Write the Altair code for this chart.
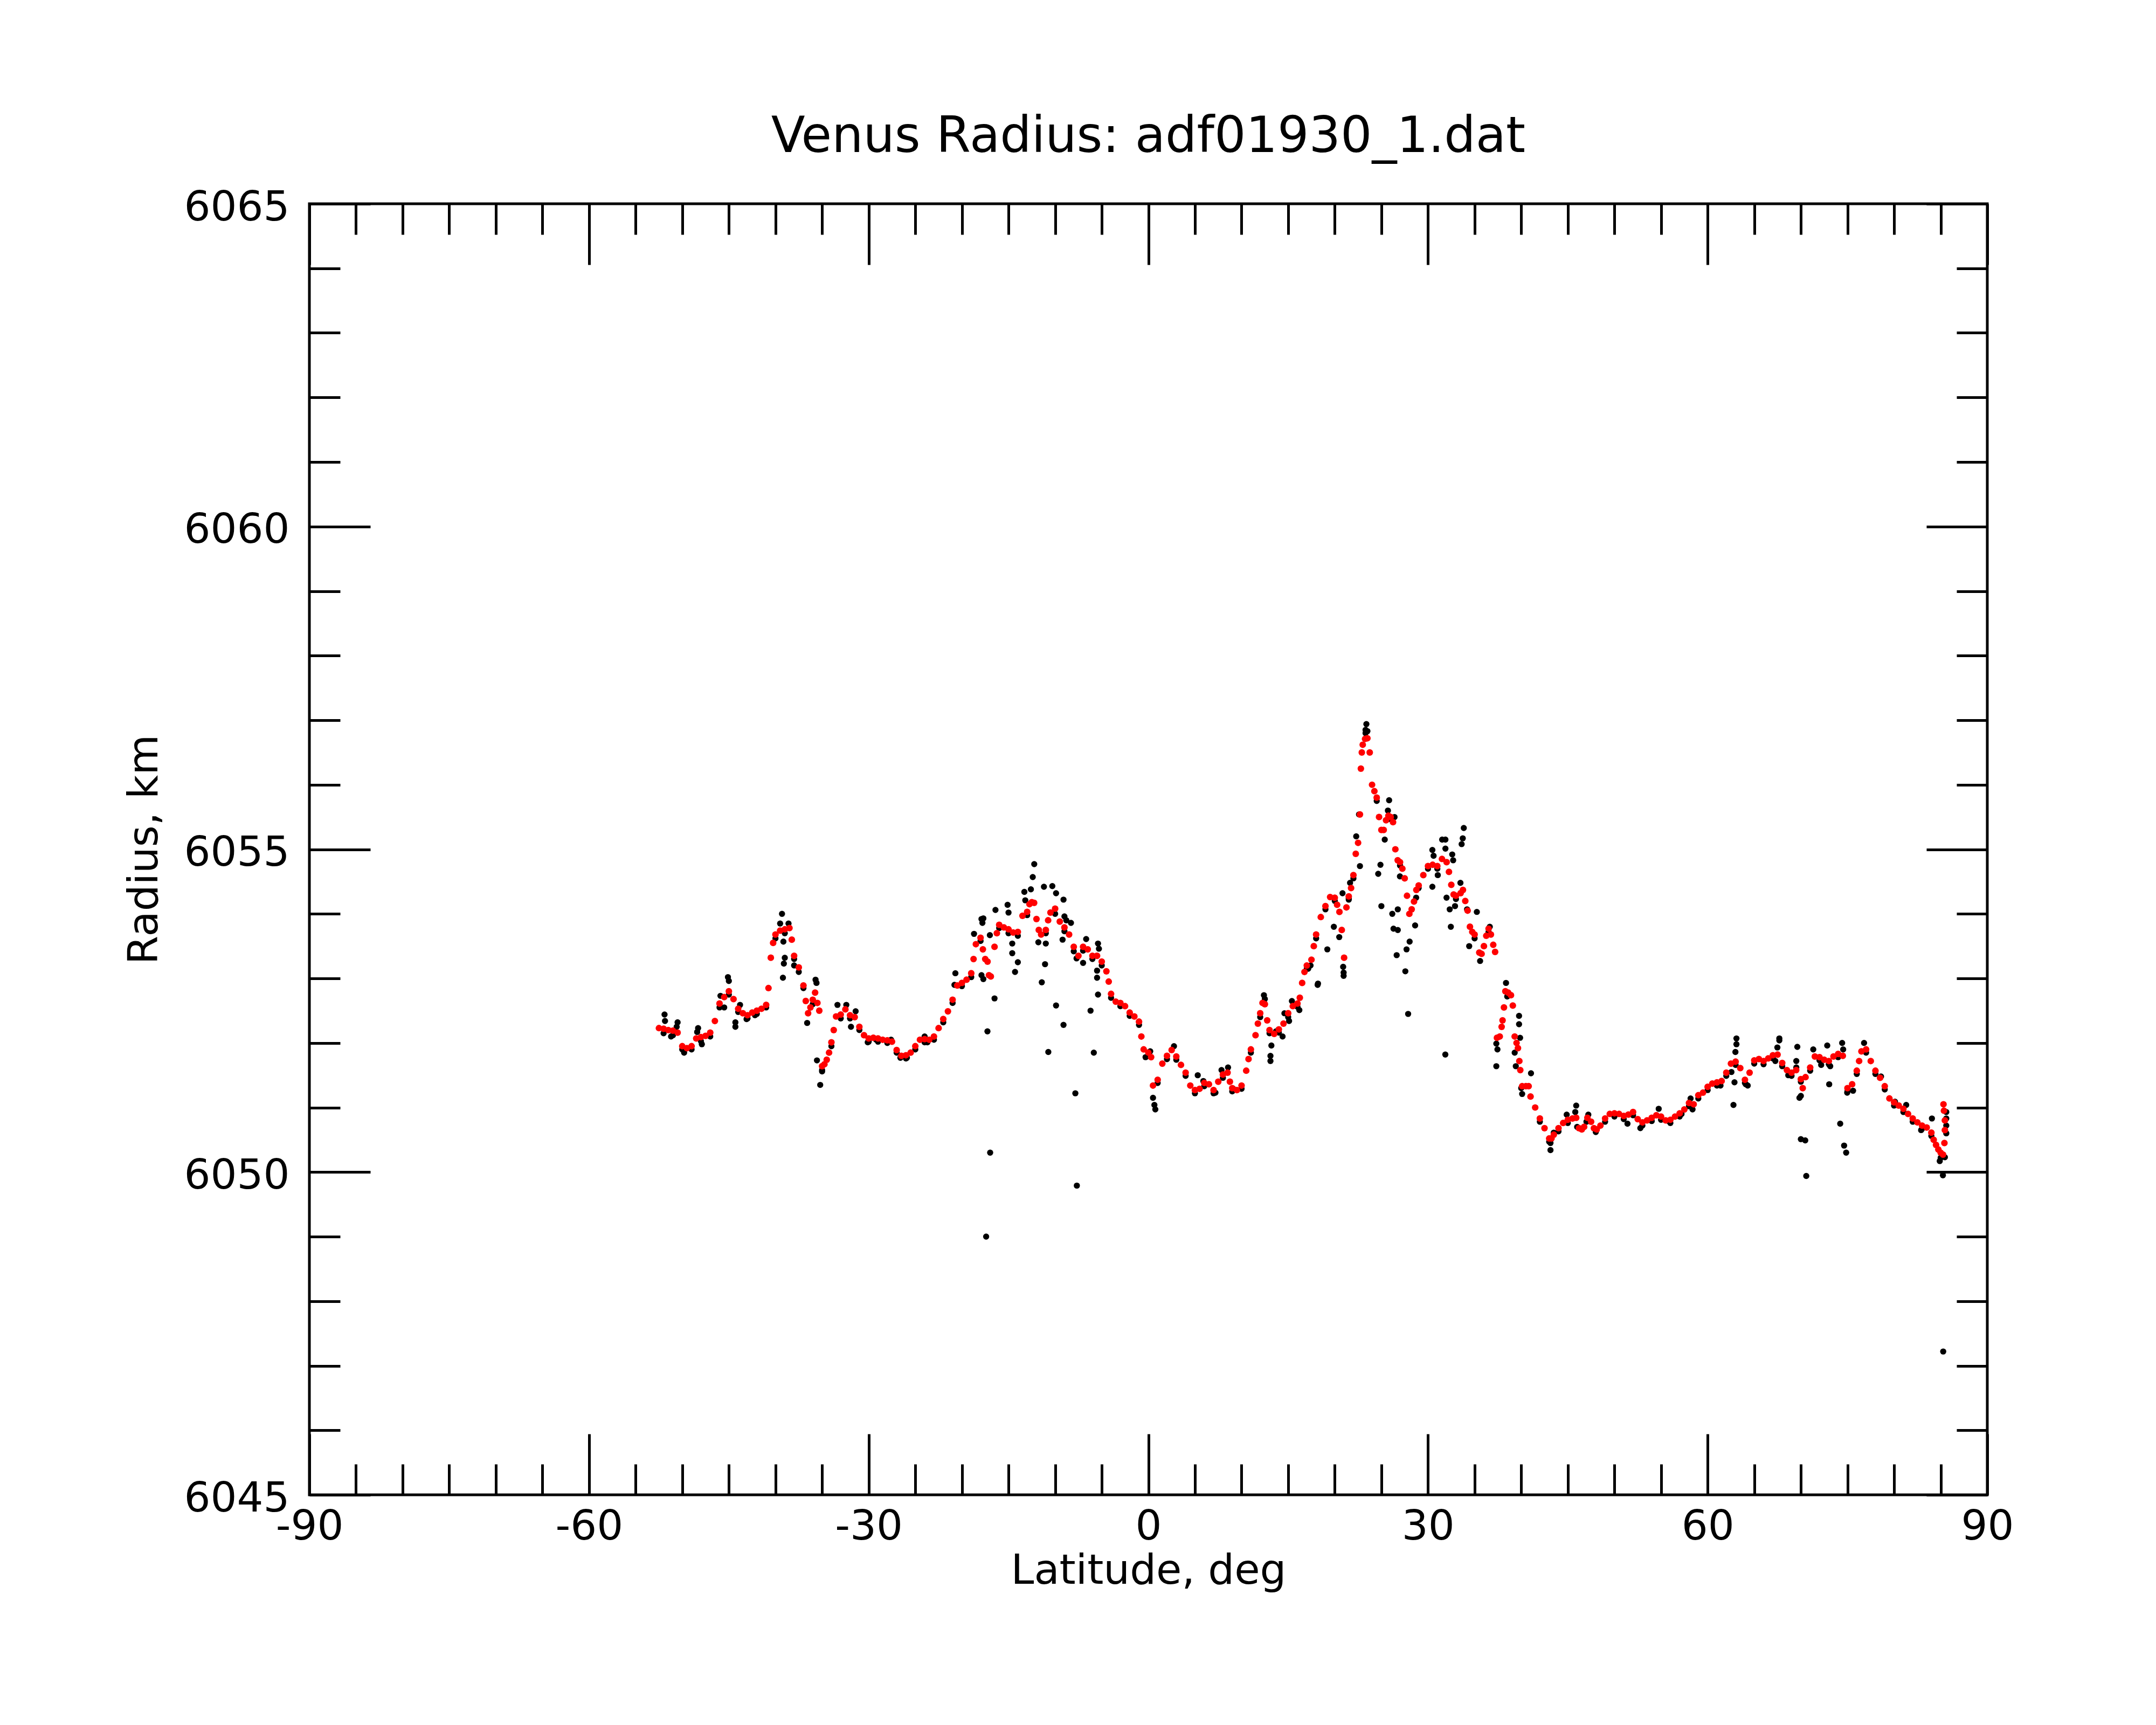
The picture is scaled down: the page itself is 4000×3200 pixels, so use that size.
import altair as alt
import pandas as pd

# ---- red (smoothed) series: latitude (deg), radius (km) ----
red_lat = [-52.5, -52.0, -51.5, -51.0, -50.5, -50.0, -49.5, -49.0, -48.5, -48.0, -47.5, -47.0, -46.5, -46.0,
           -45.5, -45.0, -44.5, -44.0, -43.5, -43.0, -42.5, -42.0, -41.5, -41.0, -40.75, -40.5, -40.25, -40.0,
           -39.5, -39.0, -38.5, -38.25, -38.0, -37.5, -37.0, -36.75, -36.5, -36.25, -36.0, -35.75, -35.5, -35.3,
           -35.0, -34.75, -34.5, -34.25, -34.0, -33.75, -33.5, -33.0, -32.5, -32.0, -31.5, -31.0, -30.5, -30.0,
           -29.5, -29.0, -28.5, -28.0, -27.5, -27.0, -26.5, -26.0, -25.5, -25.0, -24.5, -24.0, -23.5, -23.0,
           -22.5, -22.0, -21.5, -21.0, -20.5, -20.0, -19.5, -19.0, -18.75, -18.5, -18.0, -17.75, -17.5, -17.25,
           -17.1, -16.9, -16.5, -16.25, -16.0, -15.5, -15.0, -14.5, -14.0, -13.5, -13.0, -12.75, -12.5, -12.25,
           -12.0, -11.75, -11.5, -11.0, -10.75, -10.5, -10.0, -9.5, -9.0, -8.5, -8.0, -7.5, -7.0, -6.5, -6.0,
           -5.5, -5.0, -4.5, -4.25, -4.0, -3.5, -3.0, -2.5, -2.0, -1.5, -1.0, -0.75, -0.5, 0.0, 0.3, 0.5, 1.0,
           1.5, 2.0, 2.5, 3.0, 3.5, 4.0, 4.5, 5.0, 5.5, 6.0, 6.5, 7.0, 7.5, 8.0, 8.5, 8.75, 9.0, 9.5, 10.0,
           10.5, 10.75, 11.0, 11.5, 11.75, 12.0, 12.25, 12.5, 12.75, 13.0, 13.5, 14.0, 14.5, 15.0, 15.5, 16.0,
           16.25, 16.5, 16.75, 17.0, 17.5, 17.75, 18.0, 18.5, 19.0, 19.5, 20.0, 20.25, 20.5, 20.75, 21.0, 21.25,
           21.5, 21.75, 22.0, 22.25, 22.5, 22.7, 22.8, 22.9, 23.0, 23.25, 23.5, 23.75, 24.0, 24.25, 24.5, 24.75,
           25.0, 25.25, 25.5, 25.75, 26.0, 26.25, 26.5, 26.75, 27.0, 27.25, 27.5, 27.75, 28.0, 28.25, 28.5,
           28.75, 29.0, 29.5, 30.0, 30.5, 31.0, 31.5, 32.0, 32.25, 32.5, 32.75, 33.0, 33.5, 33.75, 34.0, 34.25,
           34.5, 34.75, 35.0, 35.5, 35.75, 36.0, 36.25, 36.5, 36.75, 37.0, 37.2, 37.4, 37.7, 37.9, 38.0, 38.15,
           38.3, 38.6, 38.9, 39.1, 39.3, 39.5, 39.65, 39.8, 39.9, 40.1, 40.5, 40.8, 41.0, 41.5, 42.0, 42.5,
           43.0, 43.25, 43.5, 44.0, 44.5, 45.0, 45.5, 45.9, 46.2, 46.5, 46.75, 47.1, 47.5, 47.8, 48.1, 48.5,
           49.0, 49.5, 50.0, 50.5, 51.0, 51.5, 52.0, 52.5, 53.0, 53.5, 54.0, 54.5, 55.0, 55.5, 56.0, 56.5,
           57.0, 57.5, 58.0, 58.5, 59.0, 59.5, 60.0, 60.5, 61.0, 61.5, 62.0, 62.5, 63.0, 63.5, 64.0, 64.5,
           65.0, 65.5, 66.0, 66.5, 67.0, 67.5, 68.0, 68.5, 69.0, 69.5, 70.0, 70.2, 70.5, 71.0, 71.5, 72.0,
           72.5, 73.0, 73.5, 74.0, 74.5, 75.0, 75.5, 76.0, 76.25, 76.5, 77.0, 77.5, 78.0, 78.5, 79.0, 79.5,
           80.0, 80.5, 81.0, 81.5, 82.0, 82.5, 83.0, 83.5, 84.0, 84.25, 84.5, 84.75, 85.0, 85.25, 85.4, 85.45,
           85.45, 85.35, 85.3]
red_r = [6052.23, 6052.22, 6052.20, 6052.19, 6052.16, 6051.95, 6051.92, 6051.95, 6052.07, 6052.09, 6052.11,
         6052.16, 6052.34, 6052.61, 6052.71, 6052.80, 6052.68, 6052.53, 6052.46, 6052.43, 6052.47, 6052.50,
         6052.53, 6052.59, 6052.85, 6053.32, 6053.55, 6053.68, 6053.74, 6053.76, 6053.78, 6053.60, 6053.35,
         6053.17, 6052.89, 6052.65, 6052.46, 6052.55, 6052.67, 6052.78, 6052.62, 6052.50, 6051.64, 6051.67,
         6051.74, 6051.85, 6052.01, 6052.20, 6052.41, 6052.44, 6052.52, 6052.43, 6052.40, 6052.25, 6052.12,
         6052.07, 6052.08, 6052.07, 6052.05, 6052.04, 6052.02, 6051.89, 6051.80, 6051.81, 6051.85, 6051.95,
         6052.05, 6052.06, 6052.05, 6052.10, 6052.23, 6052.37, 6052.49, 6052.67, 6052.89, 6052.93, 6052.98,
         6053.08, 6053.30, 6053.53, 6053.63, 6053.45, 6053.30, 6053.26, 6053.05, 6053.03, 6053.49, 6053.70,
         6053.83, 6053.79, 6053.76, 6053.71, 6053.72, 6053.97, 6054.03, 6054.15, 6054.18, 6054.17, 6053.92,
         6053.75, 6053.68, 6053.75, 6053.90, 6054.02, 6054.08, 6053.88, 6053.79, 6053.68, 6053.49, 6053.35,
         6053.49, 6053.45, 6053.35, 6053.35, 6053.26, 6053.11, 6052.95, 6052.76, 6052.64, 6052.62, 6052.57,
         6052.47, 6052.41, 6052.33, 6052.10, 6051.90, 6051.85, 6051.78, 6051.34, 6051.43, 6051.68, 6051.80,
         6051.89, 6051.79, 6051.66, 6051.54, 6051.34, 6051.27, 6051.29, 6051.38, 6051.36, 6051.27, 6051.40,
         6051.51, 6051.54, 6051.40, 6051.30, 6051.27, 6051.34, 6051.57, 6051.75, 6051.90, 6052.12, 6052.30,
         6052.46, 6052.62, 6052.60, 6052.35, 6052.20, 6052.14, 6052.21, 6052.30, 6052.46, 6052.57, 6052.61,
         6052.70, 6052.93, 6053.10, 6053.20, 6053.29, 6053.50, 6053.68, 6053.95, 6054.12, 6054.26, 6054.25,
         6054.14, 6054.03, 6053.75, 6053.32, 6054.10, 6054.27, 6054.40, 6054.60, 6054.93, 6055.10, 6055.54,
         6056.25, 6056.50, 6056.62, 6056.71, 6056.72, 6056.50, 6056.00, 6055.90, 6055.80, 6055.50, 6055.30,
         6055.30, 6055.45, 6055.52, 6055.50, 6055.42, 6055.00, 6054.83, 6054.80, 6054.70, 6054.55, 6054.28,
         6054.00, 6054.07, 6054.19, 6054.37, 6054.44, 6054.60, 6054.74, 6054.76, 6054.74, 6054.85, 6054.80,
         6054.65, 6054.45, 6054.30, 6054.28, 6054.32, 6054.37, 6054.20, 6054.05, 6053.80, 6053.72, 6053.68,
         6053.40, 6053.38, 6053.50, 6053.66, 6053.77, 6053.68, 6053.52, 6053.41, 6052.08, 6052.10, 6052.25,
         6052.35, 6052.55, 6052.80, 6052.78, 6052.74, 6052.58, 6052.10, 6052.00, 6051.92, 6051.72, 6051.58,
         6051.33, 6051.33, 6051.33, 6051.17, 6051.00, 6050.83, 6050.68, 6050.52, 6050.52, 6050.58, 6050.68,
         6050.76, 6050.81, 6050.83, 6050.84, 6050.68, 6050.66, 6050.70, 6050.84, 6050.78, 6050.68, 6050.66,
         6050.72, 6050.83, 6050.90, 6050.91, 6050.90, 6050.87, 6050.89, 6050.93, 6050.82, 6050.77, 6050.80,
         6050.84, 6050.88, 6050.86, 6050.80, 6050.81, 6050.86, 6050.91, 6050.97, 6051.07, 6051.05, 6051.19,
         6051.23, 6051.32, 6051.37, 6051.39, 6051.41, 6051.54, 6051.68, 6051.71, 6051.61, 6051.43, 6051.54,
         6051.73, 6051.75, 6051.72, 6051.76, 6051.81, 6051.82, 6051.69, 6051.58, 6051.54, 6051.58, 6051.44,
         6051.30, 6051.47, 6051.62, 6051.79, 6051.78, 6051.74, 6051.72, 6051.79, 6051.83, 6051.80, 6051.30,
         6051.36, 6051.57, 6051.72, 6051.87, 6051.90, 6051.72, 6051.57, 6051.46, 6051.33, 6051.14, 6051.08,
         6051.03, 6050.98, 6050.90, 6050.83, 6050.77, 6050.72, 6050.69, 6050.61, 6050.50, 6050.42, 6050.35,
         6050.30, 6050.27, 6050.45, 6050.65, 6050.80, 6050.95, 6051.05]

# ---- black (raw) series: latitude (deg), radius (km) ----
blk_lat = [-52.0, -51.0, -50.0, -49.0, -48.0, -47.0, -46.0, -45.0, -44.0, -43.0, -42.0, -41.0, -40.0, -39.0,
           -38.0, -37.0, -36.0, -35.0, -34.0, -33.0, -32.0, -31.0, -30.0, -29.0, -28.0, -27.0, -26.0, -25.0,
           -24.0, -23.0, -22.0, -21.0, -20.0, -19.0, -18.0, -16.0, -15.0, -14.0, -13.0, -11.0, -10.0, -9.0,
           -8.0, -7.0, -6.0, -5.0, -4.0, -3.0, -2.0, -1.0, 0.0, 1.0, 2.0, 3.0, 4.0, 5.0, 6.0, 7.0, 8.0, 9.0,
           10.0, 11.0, 12.0, 13.0, 14.0, 15.0, 16.0, 17.0, 18.0, 19.0, 20.0, 21.5, 22.0, 23.3, 24.5, 25.8,
           27.0, 29.0, 30.0, 31.0, 33.0, 35.0, 36.5, 38.5, 40.0, 42.0, 43.0, 44.0, 45.0, 46.0, 47.0, 48.0,
           49.0, 50.0, 51.0, 52.0, 53.0, 54.0, 55.0, 56.0, 57.0, 58.0, 59.0, 60.0, 61.0, 62.0, 63.0, 64.0,
           65.0, 66.0, 67.0, 68.0, 69.0, 70.0, 71.0, 72.0, 73.0, 74.0, 75.0, 76.0, 77.0, 78.0, 79.0, 80.0,
           81.0, 82.0, 83.0, 84.0, 85.0,
           -51.9, -51.85, -51.2, -50.5, -50.6, -49.8, -48.3, -48.4, -47.9, -45.9, -45.1, -45.0, -45.5, -44.3,
           -44.3, -43.8, -43.1, -42.2, -39.3, -39.5, -38.6, -39.15, -39.0, -39.1, -39.2, -38.0, -37.5, -36.6,
           -35.7, -35.6, -35.55, -35.2, -35.0, -33.35, -32.4, -31.9, -31.4, -30.1, -29.2, -27.6, -26.6, -25.9,
           -24.0, -23.7, -20.7, -20.8, -18.7, -17.9, -17.8, -17.9, -17.7, -17.26, -16.97, -17.4,
           -12.24, -12.4, -12.6, -13.3, -11.2, -10.3, -9.9, -9.1, -13.2, -15.1, -15.0, -16.4, -17.7, -17.0,
           -14.6, -14.6, -14.0, -14.3, -16.5, -11.08, -11.43, -11.8, -11.0, -9.9, -9.1, -10.73, -7.83, -7.67,
           -5.85, -6.2, -5.5, -5.5, -5.4, -5.4, -5.3, -6.67, -7.0, -7.7, -9.0, -8.8, -9.2, -8.3, -0.3, 0.2,
           0.5, 0.65, 0.75, 2.75, 5.3, 5.9, 7.2, 8.55, 7.85, 9.1, 12.4, 12.5, 13.2, 13.1, 13.1, 13.7, 14.4,
           14.6, 15.4, 15.1, 16.2, 17.15, 17.4, 18.2,
           23.39, 23.3, 23.5, 18.16, 19.2, 19.9, 20.48, 20.83, 20.95, 20.95, 20.9, 21.5, 21.64, 22.3, 22.7,
           22.6, 24.9, 24.66, 25.0, 25.36, 25.83, 25.7, 26.41, 26.17, 26.76, 26.3, 26.76, 26.64, 26.99, 27.57,
           27.7, 28.03, 27.87, 28.62, 28.73, 30.47, 30.6, 30.47, 31.05, 31.52, 31.87, 31.87, 32.6, 32.7, 31.86,
           31.99, 32.33, 32.45, 32.9, 33.48, 33.61, 33.73, 33.84, 34.42, 34.19, 35.24, 35.59, 36.63, 38.37,
           37.33, 37.45, 37.33, 39.77, 39.77, 39.88, 39.3, 39.42, 41.05, 40.1, 43.14, 43.14, 43.49, 44.88,
           45.9, 45.8, 47.2, 51.4, 52.78,
           63.09, 63.09, 62.98, 62.88, 62.77, 62.55, 64.1, 64.3, 58.17, 58.38, 54.75, 55.8, 57.2, 61.38, 67.69,
           67.69, 67.48, 67.26, 68.65, 69.62, 69.51, 69.51, 70.0, 69.85, 70.0, 70.47, 70.58, 71.33, 72.18,
           72.83, 73.15, 73.04, 74.43, 74.54, 74.22, 74.64, 74.86, 74.97, 75.6, 76.78, 78.6, 80.1, 81.3, 82.9,
           84.06, 84.9, 85.24, 85.6, 85.6, 85.6, 85.6, 85.45, 85.27]
blk_r = [6052.15, 6052.12, 6051.90, 6051.90, 6052.03, 6052.10, 6052.55, 6052.75, 6052.48, 6052.38, 6052.45,
         6052.55, 6053.62, 6053.70, 6053.30, 6052.85, 6052.60, 6051.58, 6051.95, 6052.38, 6052.38, 6052.20,
         6052.02, 6052.02, 6052.00, 6051.85, 6051.76, 6051.90, 6052.01, 6052.05, 6052.32, 6052.62, 6052.88,
         6053.02, 6053.58, 6053.78, 6053.70, 6053.66, 6053.98, 6053.70, 6054.00, 6053.73, 6053.42, 6053.43,
         6053.30, 6053.20, 6052.70, 6052.57, 6052.42, 6052.28, 6051.80, 6051.38, 6051.75, 6051.74, 6051.49,
         6051.22, 6051.33, 6051.22, 6051.46, 6051.25, 6051.29, 6051.85, 6052.40, 6052.15, 6052.16, 6052.40,
         6052.56, 6053.15, 6053.62, 6054.07, 6054.20, 6054.22, 6054.55, 6056.80, 6055.75, 6055.47, 6054.75,
         6054.40, 6054.70, 6054.70, 6054.23, 6053.62, 6053.72, 6052.72, 6051.30, 6050.78, 6050.47, 6050.63,
         6050.76, 6050.70, 6050.78, 6050.62, 6050.78, 6050.86, 6050.82, 6050.88, 6050.72, 6050.79, 6050.81,
         6050.76, 6050.86, 6051.02, 6051.14, 6051.27, 6051.34, 6051.49, 6051.66, 6051.38, 6051.68, 6051.67,
         6051.76, 6051.64, 6051.49, 6051.40, 6051.57, 6051.73, 6051.67, 6051.78, 6051.25, 6051.52, 6051.85,
         6051.52, 6051.28, 6051.03, 6050.93, 6050.78, 6050.67, 6050.56, 6050.22,
         6052.44, 6052.34, 6052.10, 6052.32, 6052.25, 6051.85, 6052.23, 6052.17, 6051.98, 6052.73, 6053.02,
         6052.96, 6052.55, 6052.32, 6052.25, 6052.59, 6052.37, 6052.43, 6054.00, 6053.85, 6053.85, 6053.57,
         6053.32, 6053.23, 6053.01, 6053.20, 6053.10, 6052.31, 6052.98, 6052.93, 6051.73, 6051.35, 6051.56,
         6052.59, 6052.59, 6052.25, 6052.49, 6052.01, 6052.05, 6052.05, 6051.77, 6051.77, 6052.10, 6052.01,
         6053.08, 6052.90, 6053.69, 6053.92, 6053.86, 6053.05, 6052.99, 6052.18, 6050.30, 6049.00,
         6054.77, 6054.57, 6054.38, 6054.34, 6054.42, 6054.43, 6054.32, 6054.22, 6054.21, 6054.14, 6054.02,
         6054.06, 6053.93, 6053.67, 6053.54, 6053.39, 6053.25, 6053.10, 6052.69, 6053.22, 6052.94, 6053.56,
         6053.54, 6052.58, 6052.28, 6051.86, 6051.22, 6049.79, 6051.85, 6052.50, 6053.01, 6053.12, 6052.75,
         6053.54, 6053.46, 6053.61, 6053.24, 6053.31, 6053.96, 6053.90, 6053.60, 6053.86, 6051.78, 6051.87,
         6051.15, 6051.04, 6050.97, 6051.95, 6051.50, 6051.41, 6051.23, 6051.62, 6051.58, 6051.29, 6052.74,
         6052.68, 6051.96, 6051.80, 6051.72, 6052.18, 6052.10, 6052.46, 6052.65, 6052.34, 6052.51, 6053.15,
         6053.20, 6052.92,
         6056.94, 6056.85, 6056.83, 6052.90, 6053.45, 6053.80, 6053.64, 6054.32, 6053.09, 6053.04, 6053.18,
         6054.24, 6054.48, 6055.20, 6054.74, 6055.54, 6054.76, 6054.62, 6054.12, 6055.15, 6055.76, 6055.60,
         6055.50, 6054.00, 6054.07, 6053.77, 6053.75, 6053.36, 6054.58, 6053.11, 6053.45, 6053.57, 6052.45,
         6053.82, 6054.25, 6054.99, 6054.90, 6054.42, 6054.60, 6055.15, 6055.15, 6055.01, 6054.92, 6054.83,
         6051.82, 6054.25, 6054.07, 6053.80, 6054.12, 6054.48, 6055.08, 6055.17, 6055.33, 6053.50, 6054.07,
         6054.03, 6053.27, 6053.80, 6052.93, 6051.99, 6051.90, 6051.64, 6052.42, 6052.29, 6052.08, 6051.85,
         6051.64, 6051.53, 6051.21, 6050.45, 6050.34, 6050.61, 6050.89, 6051.03, 6050.93, 6050.89, 6050.75,
         6050.68,
         6052.07, 6051.98, 6051.86, 6051.39, 6051.04, 6051.55, 6051.36, 6051.34, 6051.14, 6050.97, 6050.98,
         6050.79, 6050.90, 6051.34, 6052.07, 6052.04, 6051.93, 6051.72, 6051.50, 6051.94, 6051.72, 6051.62,
         6051.18, 6051.15, 6050.51, 6050.49, 6049.94, 6051.90, 6051.66, 6051.96, 6051.64, 6051.36, 6052.00,
         6051.90, 6050.75, 6050.41, 6050.30, 6051.23, 6051.26, 6052.00, 6051.48, 6051.09, 6051.04, 6050.65,
         6050.83, 6050.17, 6049.95, 6050.93, 6050.83, 6050.72, 6050.60, 6050.23, 6047.22]

x_ticks = list(range(-90, 91, 5))
y_ticks = list(range(6045, 6066))

W, H = 3113, 2395
MAJ, MIN = 113, 57
FONT = "DejaVu Sans"

red_df = pd.DataFrame({"lat": red_lat, "r": red_r})
blk_df = pd.DataFrame({"lat": blk_lat, "r": blk_r})

x_axis = alt.Axis(
    values=x_ticks,
    labelExpr="datum.value % 30 === 0 ? '' + datum.value : ''",
    grid=True,
    gridColor="black", gridOpacity=1, gridWidth=5,
    gridDash={"condition": {"test": "datum.value % 30 === 0", "value": [MAJ, H - 2 * MAJ, MAJ]},
              "value": [MIN, H - 2 * MIN, MIN]},
    ticks=False, tickSize=0, domain=False,
    labelFlush=False, labelOverlap=False, labelLimit=0,
    labelFont=FONT, labelFontSize=77, labelColor="black", labelPadding=21,
    title="Latitude, deg", titleFont=FONT, titleFontSize=77, titleFontWeight="normal",
    titleColor="black", titleBaseline="alphabetic", titleY=164,
)
y_axis = alt.Axis(
    values=y_ticks,
    labelExpr="datum.value % 5 === 0 ? '' + datum.value : ''",
    grid=True,
    gridColor="black", gridOpacity=1, gridWidth=5,
    gridDash={"condition": {"test": "datum.value % 5 === 0", "value": [MAJ, W - 2 * MAJ, MAJ]},
              "value": [MIN, W - 2 * MIN, MIN]},
    ticks=False, tickSize=0, domain=False,
    labelFlush=False, labelOverlap=False, labelLimit=0,
    labelFont=FONT, labelFontSize=77, labelColor="black", labelPadding=37, labelOffset=7,
    title="Radius, km", titleFont=FONT, titleFontSize=77, titleFontWeight="normal",
    titleColor="black", titleBaseline="alphabetic", titleX=-283, titleY=H / 2, titleAngle=270,
)

xs = alt.Scale(domain=[-90, 90], nice=False, zero=False)
ys = alt.Scale(domain=[6045, 6065], nice=False, zero=False)

black = alt.Chart(blk_df).mark_circle(size=130, color="black", opacity=1).encode(
    x=alt.X("lat:Q", scale=xs, axis=x_axis),
    y=alt.Y("r:Q", scale=ys, axis=y_axis),
)
red = alt.Chart(red_df).mark_circle(size=150, color="#ff0000", opacity=1).encode(
    x=alt.X("lat:Q", scale=xs),
    y=alt.Y("r:Q", scale=ys),
)

chart = alt.layer(black, red).properties(
    width=W, height=H,
    background="white",
    title=alt.TitleParams("Venus Radius: adf01930_1.dat", font=FONT, fontSize=92, fontWeight="normal",
                          color="black", anchor="middle", frame="group", baseline="alphabetic",
                          offset=96, dy=124),
    autosize=alt.AutoSizeParams(type="none"),
    padding={"left": 566, "top": 370, "right": 300, "bottom": 400},
).configure_view(stroke="black", strokeWidth=5, strokeOpacity=1)

chart.save("out.html", embed_options={"renderer": "svg", "actions": False})
